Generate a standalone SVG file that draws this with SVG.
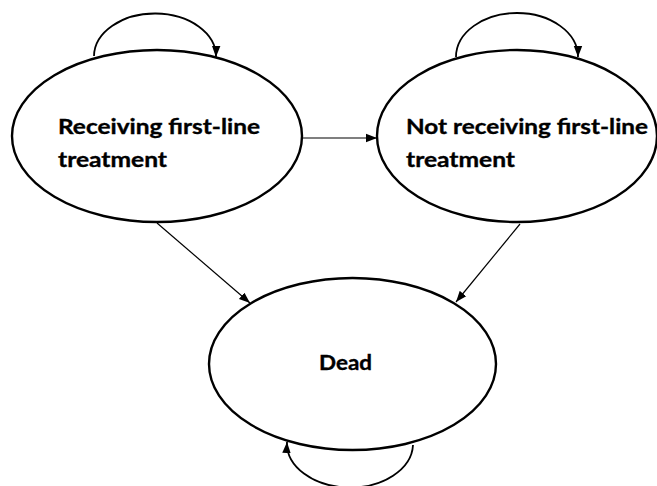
<svg xmlns="http://www.w3.org/2000/svg" width="657" height="486" viewBox="0 0 657 486">
  <style>
    .state { fill: #ffffff; stroke: #000000; stroke-width: 2.4; }
    .label { font-family: Lato, "Open Sans", "Liberation Sans", sans-serif; font-weight: 700; font-size: 20.5px; fill: #000000; stroke: #000000; stroke-width: 0.35; }
    .loop { fill: none; stroke: #000000; stroke-width: 1.8; marker-end: url(#head); }
    .edge { fill: none; stroke: #000000; stroke-width: 1.2; marker-end: url(#head); }
  </style>
  <defs>
    <marker id="head" markerUnits="userSpaceOnUse" markerWidth="12" markerHeight="10" refX="11" refY="5" orient="auto">
      <path d="M0,0.8 L11,5 L0,9.2 Z" fill="#000000"/>
    </marker>
  </defs>
  <rect width="657" height="486" fill="#ffffff"/>

  <!-- transitions -->
  <g id="connectors">
    <path class="loop" d="M94,56 A61,43 0 0 1 216,57"/>
    <path class="loop" d="M456,57 A61,44 0 0 1 578,57"/>
    <path class="edge" d="M301,138 L377,138"/>
    <path class="edge" d="M157,223 L250,303"/>
    <path class="edge" d="M520,224 L456,302"/>
    <path class="loop" d="M413,445 A63,44 0 0 1 287,442"/>
  </g>

  <g id="receiving">
    <ellipse class="state" cx="157" cy="136" rx="145" ry="86"/>
    <text class="label" x="58" y="134" textLength="202" lengthAdjust="spacingAndGlyphs">Receiving first-line</text>
    <text class="label" x="58" y="167" textLength="109" lengthAdjust="spacingAndGlyphs">treatment</text>
  </g>

  <g id="not-receiving">
    <ellipse class="state" cx="517" cy="136" rx="140" ry="86"/>
    <text class="label" x="406" y="134" textLength="242" lengthAdjust="spacingAndGlyphs">Not receiving first-line</text>
    <text class="label" x="406" y="167" textLength="109" lengthAdjust="spacingAndGlyphs">treatment</text>
  </g>

  <g id="dead">
    <ellipse class="state" cx="352.5" cy="364" rx="143.5" ry="86"/>
    <text class="label" x="319" y="370" textLength="53" lengthAdjust="spacingAndGlyphs">Dead</text>
  </g>
</svg>
